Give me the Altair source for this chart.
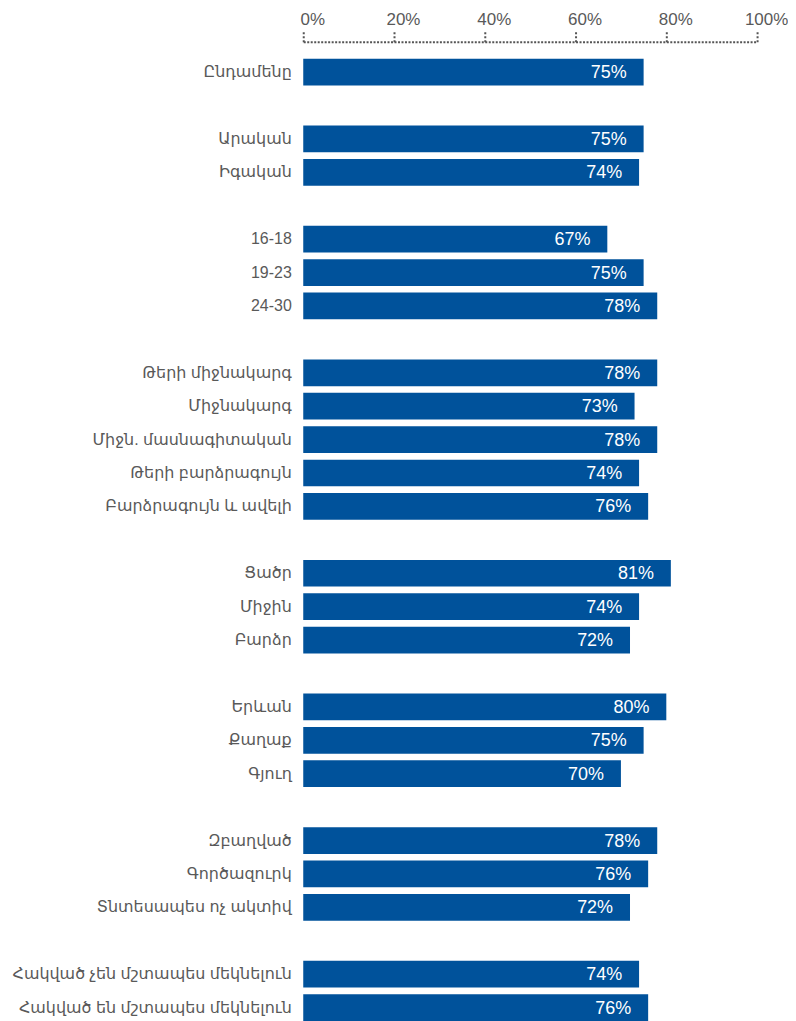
import altair as alt
import pandas as pd

# Groups of categories (blank rows separate groups)
groups = [
    ["Ընդամենը"],
    ["Արական", "Իգական"],
    ["16-18", "19-23", "24-30"],
    ["Թերի միջնակարգ", "Միջնակարգ", "Միջն. մասնագիտական", "Թերի բարձրագույն", "Բարձրագույն և ավելի"],
    ["Ցածր", "Միջին", "Բարձր"],
    ["Երևան", "Քաղաք", "Գյուղ"],
    ["Զբաղված", "Գործազուրկ", "Տնտեսապես ոչ ակտիվ"],
    ["Հակված չեն մշտապես մեկնելուն", "Հակված են մշտապես մեկնելուն"],
]
values = [75, 75, 74, 67, 75, 78, 78, 73, 78, 74, 76, 81, 74, 72, 80, 75, 70, 78, 76, 72, 74, 76]
tick_values = [0, 0.2, 0.4, 0.6, 0.8, 1.0]

categories = [c for g in groups for c in g]
domain = []
for i, g in enumerate(groups):
    if i > 0:
        domain.append(" " * i)
    domain.extend(g)

df = pd.DataFrame({
    "cat": categories,
    "val": [v / 100 for v in values],
    "lbl": [f"{v}%" for v in values],
})

BLUE = "#00529B"
GRAY = "#595959"
FONT = "Liberation Sans, DejaVu Sans, sans-serif"

y = alt.Y("cat:N", sort=domain,
          scale=alt.Scale(domain=domain, paddingInner=0.2, paddingOuter=0),
          axis=alt.Axis(title=None, ticks=False, tickSize=0, domain=False,
                        labelPadding=12, labelFontSize=16, labelColor=GRAY,
                        labelFont=FONT, labelLimit=400))

x = alt.X("val:Q",
          scale=alt.Scale(domain=[0, 1], nice=False),
          axis=alt.Axis(title=None, orient="top", values=tick_values, format=".0%",
                        offset=17, grid=False, labelFlush=False,
                        domainColor="#555555", domainDash=[2, 1.5], domainWidth=2,
                        tickColor="#555555", tickDash=[2, 2], tickWidth=2, tickSize=12,
                        labelPadding=1, labelFontSize=17, labelColor=GRAY,
                        labelFont=FONT, labelOffset=9))

bars = alt.Chart(df).mark_bar(color=BLUE).encode(x=x, y=y)

text = alt.Chart(df).mark_text(align="right", baseline="middle", dx=-17, dy=1,
                               color="white", fontSize=18, font=FONT).encode(
    x="val:Q", y=alt.Y("cat:N", sort=domain), text="lbl:N")

chart = (bars + text).properties(
    width=455, height=964.8,
    autosize=alt.AutoSizeParams(type="none"),
    padding={"left": 296, "top": 49.5, "right": 31, "bottom": 0},
).configure_view(stroke=None)

chart.save("out.html", embed_options={"renderer": "svg", "actions": False})
